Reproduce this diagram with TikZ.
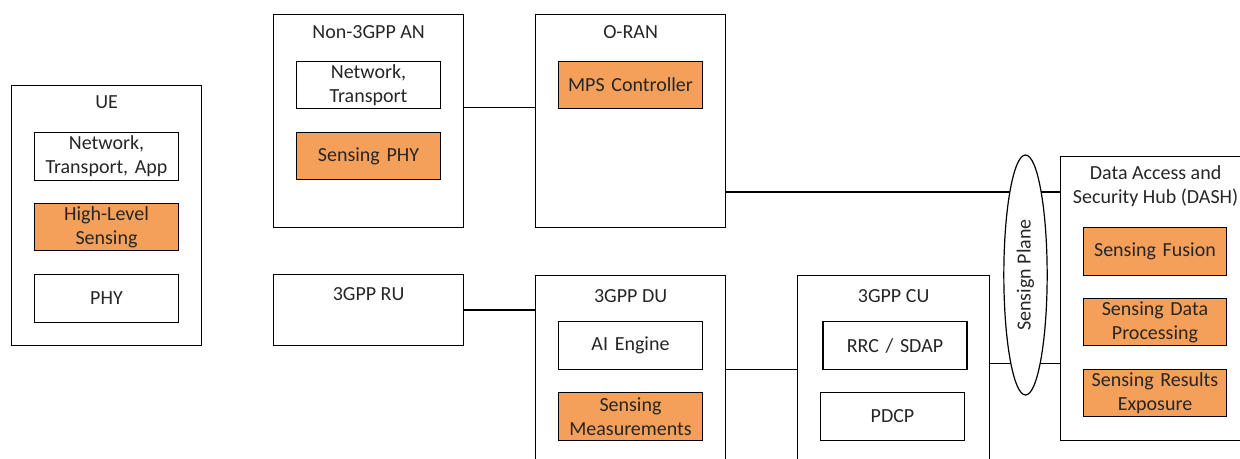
\documentclass[tikz,border=0pt]{standalone}
\usepackage{fontspec}
\setmainfont{Carlito}
\usetikzlibrary{positioning,shapes.geometric}
\definecolor{senseorange}{RGB}{244,160,91}

\begin{document}
\begin{tikzpicture}[
    x=0.75pt, y=-0.75pt,
    every node/.style={font=\fontsize{15}{18}\selectfont, text=black!85},
    block/.style={rectangle, draw, line width=0.9pt, anchor=north west, minimum width=142.5pt},
    unit/.style={rectangle, draw, line width=0.9pt, fill=white, text width=100pt, text centered, minimum width=107.5pt, minimum height=35.5pt, inner sep=1pt},
    sensing/.style={unit, fill=senseorange},
    link/.style={line width=0.9pt}
]
    \path[use as bounding box, clip] (0,0) rectangle (1240,459);

    % outer entities
    \node [block, minimum height=195pt] (ue) at (11,85) {};
    \node [block, minimum height=159.75pt] (nonan) at (273,14) {};
    \node [block, minimum height=159.75pt] (oran) at (535,14) {};
    \node [block, minimum height=53.25pt] (ru) at (273,274) {};
    \node [block, minimum height=153.75pt] (du) at (535,275) {};
    \node [block, minimum width=144pt, minimum height=153.75pt] (cu) at (797,275) {};
    \node [block, minimum height=213pt] (dash) at (1060,156) {};

    \node at ([yshift=-13pt]ue.north) {UE};
    \node at ([yshift=-13.5pt]nonan.north) {Non-3GPP AN};
    \node at ([yshift=-13.5pt]oran.north) {O-RAN};
    \node at ([yshift=-15pt]ru.north) {3GPP RU};
    \node at ([yshift=-15.5pt]du.north) {3GPP DU};
    \node at ([yshift=-15.5pt]cu.north) {3GPP CU};
    \node [align=center] at ([yshift=-23pt]dash.north) {Data Access and\\Security Hub (DASH)};

    % functions
    \node [unit] (uenet) at (106.5,156.5) {Network,\\Transport, App};
    \node [sensing] (uehls) at (106.5,227) {High-Level\\Sensing};
    \node [unit] (uephy) at (106.5,298.5) {PHY};

    \node [unit] (annet) at (368.5,85) {Network,\\Transport};
    \node [sensing] (anphy) at (368.5,156) {Sensing PHY};

    \node [sensing] (mps) at (630.5,85) {MPS Controller};

    \node [unit] (ai) at (630.5,345.5) {AI Engine};
    \node [sensing] (meas) at (630.5,416.5) {Sensing\\Measurements};

    \node [unit, minimum width=108pt] (rrc) at (895,345.5) {RRC / SDAP};
    \node [unit] (pdcp) at (892.5,416.5) {PDCP};

    \node [sensing] (fusion) at (1155,251.5) {Sensing Fusion};
    \node [sensing] (proc) at (1155,322) {Sensing Data\\Processing};
    \node [sensing] (expo) at (1155,393) {Sensing Results\\Exposure};

    % interfaces
    \draw [link] ([yshift=10pt]nonan.east) -- ([yshift=10pt]nonan.east -| oran.west);
    \draw [link] ([yshift=-53.25pt]oran.east) -- ([yshift=-53.25pt]oran.east -| dash.west);
    \draw [link] (ru.east) -- (ru.east -| du.west);
    \draw [link] (du.east |- ai.south) -- (cu.west |- ai.south);
    \draw [link] ([yshift=10.9pt]cu.east) -- ([yshift=10.9pt]cu.east -| dash.west);

    \node [ellipse, draw, line width=0.9pt, fill=white, rotate=90, minimum width=180pt, minimum height=32.5pt, inner sep=0pt] (plane) at (1025.5,275) {Sensign Plane};
\end{tikzpicture}
\end{document}
